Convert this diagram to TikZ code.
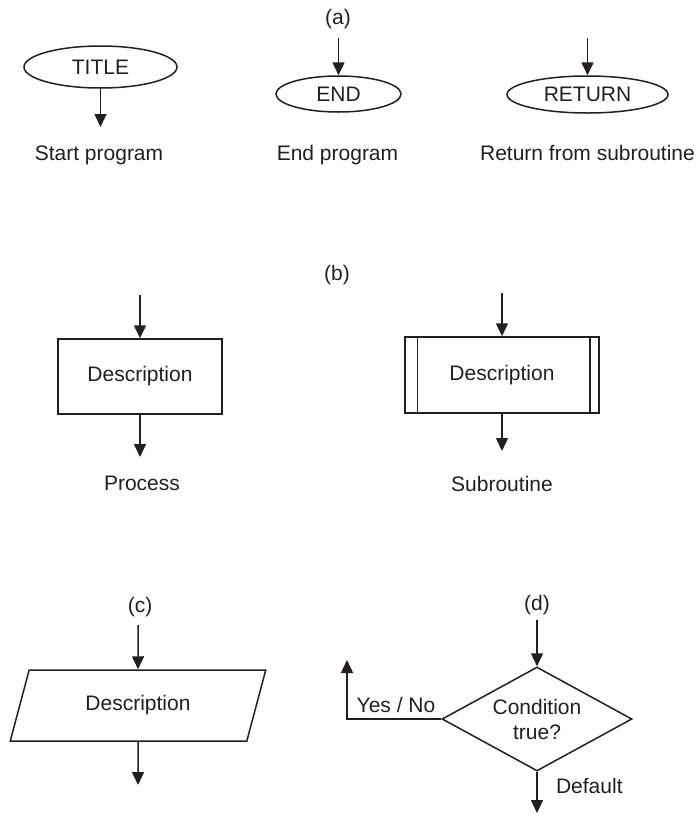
\documentclass[tikz,border=0pt]{standalone}
\usepackage{fontspec}
\setmainfont{Liberation Sans}
\usetikzlibrary{shapes.geometric, arrows.meta}
\definecolor{ink}{HTML}{231F20}

\tikzset{
    flow/.style={draw=ink, line width=0.75pt, -{Triangle[width=6pt, length=6.5pt]}},
    shapeline/.style={draw=ink, line width=0.75pt, inner sep=0pt},
    terminal/.style={shapeline, ellipse},
    processbox/.style={shapeline, rectangle, minimum width=82pt, minimum height=37.5pt},
    subbox/.style={shapeline, rectangle, minimum width=97pt, minimum height=38pt},
    iobox/.style={shapeline, trapezium, trapezium left angle=65, trapezium right angle=115,
        trapezium stretches=true, minimum width=128pt, minimum height=35.5pt},
    decision/.style={shapeline, diamond, aspect=1.8, align=center,
        minimum width=95pt, minimum height=52pt},
}

\begin{document}
\begin{tikzpicture}[x=0.5pt, y=-0.5pt, font=\fontsize{10.5}{12.5}\selectfont, text=ink]
    \useasboundingbox (0, 0) rectangle (698, 814);

    % (a) terminals
    \node (la) at (338, 19) {(a)};
    \node[terminal, minimum width=76.5pt, minimum height=21pt] (title) at (100.5, 67) {TITLE};
    \coordinate (titleout) at (100.5, 127);
    \draw[flow] (title) -- (titleout);
    \node[anchor=base] (startlbl) at (99, 160) {Start program};

    \coordinate (endin) at (338.5, 38);
    \node[terminal, minimum width=62.5pt, minimum height=18pt] (end) at (338.5, 94) {END};
    \draw[flow] (endin) -- (end);
    \node[anchor=base] (endlbl) at (337.5, 160) {End program};

    \coordinate (retin) at (587.5, 38);
    \node[terminal, minimum width=80.5pt, minimum height=18.5pt] (ret) at (587.5, 94.5) {RETURN};
    \draw[flow] (retin) -- (ret);
    \node[anchor=base] (retlbl) at (587.5, 160) {Return from subroutine};

    % (b) process and subroutine
    \node (lb) at (337, 275) {(b)};
    \coordinate (procin) at (140, 295);
    \node[processbox] (proc) at (140, 376.5) {Description};
    \coordinate (procout) at (140, 457);
    \draw[flow] (procin) -- (proc);
    \draw[flow] (proc) -- (procout);
    \node[anchor=base] (proclbl) at (142, 490) {Process};

    \coordinate (subin) at (502, 293);
    \node[subbox] (sub) at (502, 375) {Description};
    \draw[ink, line width=0.75pt] ([xshift=6.5pt]sub.north west) -- ([xshift=6.5pt]sub.south west);
    \draw[ink, line width=0.75pt] ([xshift=-5pt]sub.north east) -- ([xshift=-5pt]sub.south east);
    \coordinate (subout) at (502, 451);
    \draw[flow] (subin) -- (sub);
    \draw[flow] (sub) -- (subout);
    \node[anchor=base] (sublbl) at (502, 491) {Subroutine};

    % (c) input / output
    \node (lc) at (140, 607) {(c)};
    \coordinate (ioin) at (138, 625);
    \node[iobox] (io) at (138, 705.5) {Description};
    \coordinate (ioout) at (138, 785);
    \draw[flow] (ioin) -- (io.north);
    \draw[flow] (io.south) -- (ioout);

    % (d) decision
    \node (ld) at (537, 605) {(d)};
    \coordinate (condin) at (537, 620);
    \node[decision] (cond) at (537, 719) {Condition\\true?};
    \draw[flow] (condin) -- (cond);
    \coordinate (yesbend) at (347, 719);
    \coordinate (yesend) at (347, 660);
    \draw[flow] (cond.west) -- (yesbend) -- (yesend);
    \node[anchor=base] (yeslbl) at (396, 712) {Yes / No};
    \coordinate (defend) at (537, 813);
    \draw[flow] (cond.south) -- (defend);
    \node[anchor=base west] (deflbl) at (549, 793) {Default};

\end{tikzpicture}
\end{document}
